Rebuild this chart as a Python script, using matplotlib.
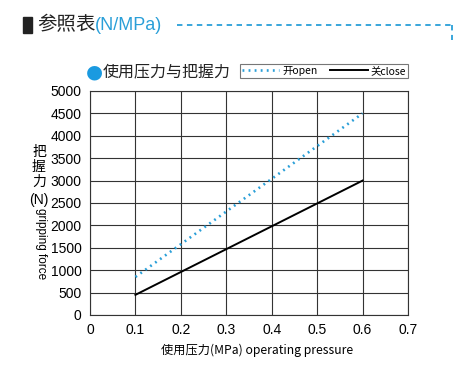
import matplotlib
matplotlib.use("Agg")
import matplotlib.pyplot as plt
from matplotlib.lines import Line2D

plt.rcParams['font.family'] = ['Noto Sans CJK SC', 'DejaVu Sans']

pressure = [0.1, 0.6]
force_open = [850, 4500]
force_close = [450, 3000]
xticks = [0, 0.1, 0.2, 0.3, 0.4, 0.5, 0.6, 0.7]
yticks = list(range(0, 5001, 500))

blue = '#2a9fd8'
fig = plt.figure(figsize=(4.62, 3.67), dpi=100)
ax = fig.add_axes([90/462, 1-315/367, (408-90)/462, (315-91)/367])

ax.plot(pressure, force_open, linestyle=(0, (0.7, 1.6)), color=blue, lw=1.9, label='开open')
ax.plot(pressure, force_close, color='black', lw=1.4, label='关close')
ax.set_xlim(0, 0.7)
ax.set_ylim(0, 5000)
ax.set_xticks(xticks)
ax.set_xticklabels(['0', '0.1', '0.2', '0.3', '0.4', '0.5', '0.6', '0.7'], family='Liberation Sans', fontsize=10)
ax.set_yticks(yticks)
ax.set_yticklabels([str(v) for v in yticks], family='Liberation Sans', fontsize=10)
ax.grid(True, color='#333333', lw=0.8)
ax.tick_params(length=0, pad=6)
for s in ax.spines.values():
    s.set_color('#333333')
    s.set_linewidth(0.8)

# y labels
fig.text(39/462, 1-167/367, '把\n握\n力', ha='center', va='center', fontsize=10, linespacing=1.05)
fig.text(39/462, 1-200/367, '(N)', ha='center', va='center', fontsize=10, family='Liberation Sans')
fig.text(41/462, 1-244/367, 'gripping force', rotation=270, ha='center', va='center', fontsize=8.5, family='Liberation Sans')
# x label
fig.text(257/462, 1-350/367, '使用压力(MPa) operating pressure', ha='center', va='center', fontsize=8.8)

# header
fig.add_artist(plt.Rectangle((23/462, 1-33/367), 9/462, 16/367, transform=fig.transFigure,
                             color='#222222'))
fig.text(37/462, 1-25/367, '参照表', ha='left', va='center', fontsize=14, color='#222222')
fig.text(95/462, 1-25/367, '(N/MPa)', ha='left', va='center', fontsize=13, color=blue, family='Liberation Sans')
fig.add_artist(Line2D([177/462, 452/462], [1-25/367, 1-25/367], transform=fig.transFigure,
                      color=blue, lw=1.3, linestyle=(0, (3, 2.5))))
fig.add_artist(Line2D([452/462, 452/462], [1-25/367, 1-40/367], transform=fig.transFigure,
                      color=blue, lw=1.3, linestyle=(0, (3, 2.5))))

# subtitle
fig.text(94/462, 1-72/367, '●', ha='center', va='center', fontsize=14, color='#1a9ae0', family='DejaVu Sans')
fig.text(103/462, 1-72/367, '使用压力与把握力', ha='left', va='center', fontsize=11.5, color='#222222')

leg = fig.legend(loc='center', bbox_to_anchor=(324/462, 1-71/367), ncol=2, fontsize=7.5,
                 frameon=True, fancybox=False, edgecolor='#555555', handlelength=3.6,
                 handletextpad=0.3, columnspacing=1.2, borderpad=0.2)
leg.get_frame().set_linewidth(0.8)

fig.savefig('out.png', dpi=100, facecolor='white')
